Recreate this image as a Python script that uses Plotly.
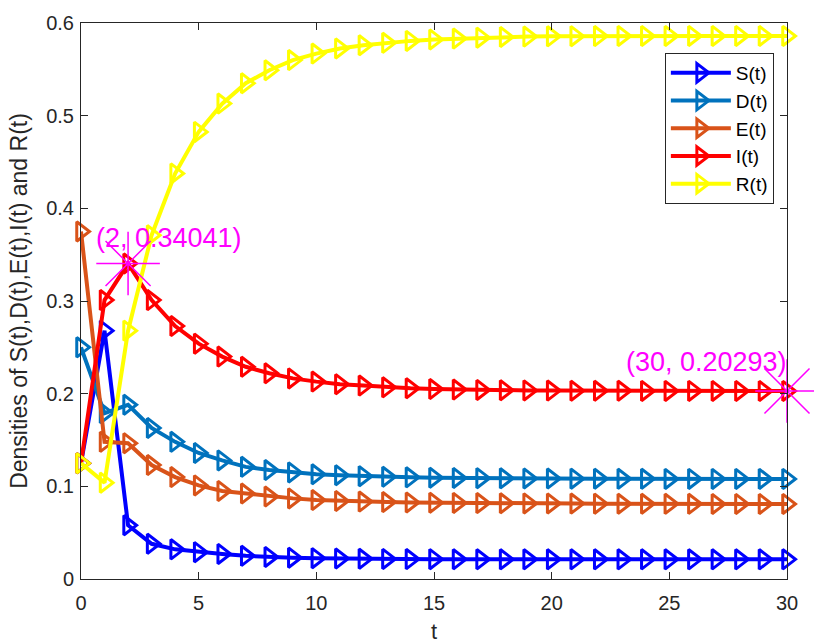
import plotly.graph_objects as go

t = list(range(31))

S = [0.125, 0.268, 0.058, 0.038, 0.032, 0.029, 0.027, 0.025, 0.0238, 0.023, 0.0225,
     0.0221, 0.0218, 0.0216, 0.0215, 0.0214, 0.0213, 0.0213, 0.0212, 0.0212, 0.0212,
     0.0212, 0.0212, 0.0212, 0.0212, 0.0212, 0.0212, 0.0212, 0.0212, 0.0212, 0.0212]
D = [0.25, 0.179, 0.188, 0.163, 0.148, 0.136, 0.128, 0.121, 0.1176, 0.115, 0.113,
     0.112, 0.111, 0.1103, 0.1097, 0.1093, 0.109, 0.1088, 0.1086, 0.1085, 0.1084,
     0.1083, 0.1082, 0.1081, 0.1081, 0.108, 0.108, 0.108, 0.108, 0.108, 0.108]
E = [0.375, 0.148, 0.1465, 0.123, 0.110, 0.101, 0.095, 0.0922, 0.089, 0.087, 0.0852,
     0.0842, 0.0835, 0.083, 0.0826, 0.0823, 0.0821, 0.0819, 0.0817, 0.0816, 0.0815,
     0.0814, 0.0813, 0.0812, 0.0812, 0.0811, 0.0811, 0.081, 0.081, 0.081, 0.081]
I = [0.125, 0.301, 0.34041, 0.301, 0.273, 0.254, 0.240, 0.229, 0.222, 0.2165, 0.213,
     0.2102, 0.2087, 0.2068, 0.2058, 0.205, 0.2044, 0.204, 0.2037, 0.2035, 0.2033,
     0.2032, 0.2031, 0.2031, 0.203, 0.203, 0.203, 0.2029, 0.2029, 0.2029, 0.20293]
R = [0.125, 0.104, 0.268, 0.371, 0.4376, 0.4825, 0.513, 0.535, 0.549, 0.560, 0.567,
     0.5725, 0.576, 0.5786, 0.5807, 0.5822, 0.5832, 0.5842, 0.5849, 0.5853, 0.5856,
     0.5858, 0.5859, 0.586, 0.586, 0.586, 0.586, 0.586, 0.586, 0.586, 0.586]

names = ["S(t)", "D(t)", "E(t)", "I(t)", "R(t)"]
colors = ["#0000FF", "#0072BD", "#D95319", "#FF0000", "#FFFF00"]
series = [S, D, E, I, R]

tip_x = [2, 30]
tip_y = [0.34041, 0.20293]
tip_text = ["(2, 0.34041)", "(30, 0.20293)"]
tip_text_x = [3.72, 26.6]
tip_text_y = [0.368, 0.2344]

FONT = "Liberation Sans, Arial, sans-serif"
TXT = "#262626"

fig = go.Figure()
for name, col, ys in zip(names, colors, series):
    fig.add_trace(go.Scatter(
        x=t, y=ys, name=name, mode="lines+markers", legendgroup=name,
        cliponaxis=False,
        line=dict(color=col, width=4),
        marker=dict(symbol="triangle-right-open", size=17, color=col,
                    line=dict(color=col, width=3)),
    ))

fig.add_trace(go.Scatter(
    x=tip_x, y=tip_y, mode="markers", showlegend=False, cliponaxis=False,
    marker=dict(symbol="asterisk-open", size=53, color="#FF00FF",
                line=dict(color="#FF00FF", width=1.5)),
))

for tx, ty, txt in zip(tip_text_x, tip_text_y, tip_text):
    fig.add_annotation(x=tx, y=ty, text=txt, showarrow=False,
                       font=dict(family=FONT, size=27, color="#FF00FF"))

axis_common = dict(showline=True, mirror="ticks", linecolor=TXT, linewidth=1,
                   ticks="inside", ticklen=7, tickcolor=TXT, showgrid=False,
                   zeroline=False, automargin=False,
                   tickfont=dict(family=FONT, size=20, color=TXT))

fig.update_layout(
    width=814, height=644,
    margin=dict(l=81, r=27, t=23, b=65),
    paper_bgcolor="white", plot_bgcolor="white",
    font=dict(family=FONT, color=TXT),
    xaxis=dict(range=[0, 30], tick0=0, dtick=5, ticklabelstandoff=6,
               title=dict(text="t", font=dict(family=FONT, size=22, color=TXT), standoff=10),
               **axis_common),
    yaxis=dict(range=[0, 0.6], tick0=0, dtick=0.1, ticklabelstandoff=2,
               title=dict(text="Densities of S(t),D(t),E(t),I(t) and R(t)",
                          font=dict(family=FONT, size=23, color=TXT), standoff=12),
               **axis_common),
    legend=dict(x=0.827, y=0.946, xanchor="left", yanchor="top",
                bgcolor="white", bordercolor=TXT, borderwidth=1,
                font=dict(family=FONT, size=19, color="#000000"),
                itemwidth=60, tracegroupgap=0),
    showlegend=True,
)

fig.write_html("out.html")
